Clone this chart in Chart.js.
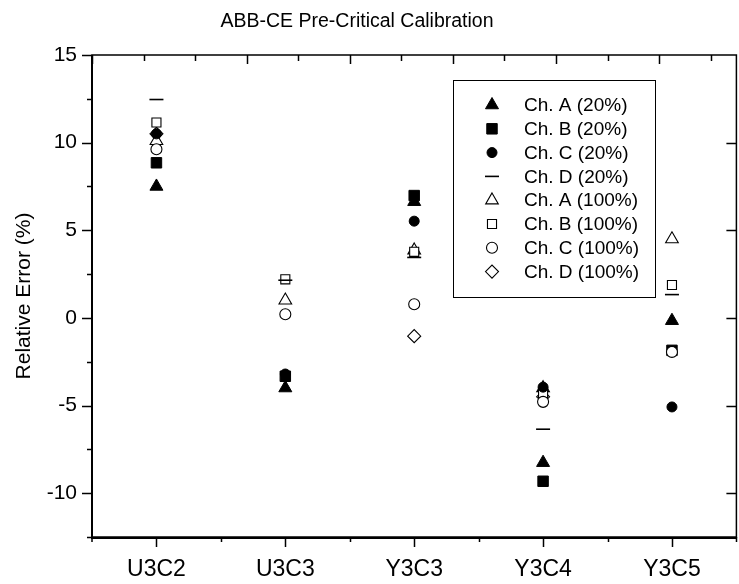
<!DOCTYPE html>
<html><head><meta charset="utf-8">
<script src="https://cdn.jsdelivr.net/npm/chart.js@4.4.1/dist/chart.umd.min.js"></script>
<style>html,body{margin:0;padding:0;background:#fff;overflow:hidden;width:739px;height:584px}canvas{display:block}</style>
</head><body>
<canvas id="c" width="745" height="584"></canvas>
<script>
const categories = ['U3C2', 'U3C3', 'Y3C3', 'Y3C4', 'Y3C5'];
const chA20  = [7.5, -4.0, 6.63, -8.26, -0.16];
const chB20  = [8.85, -3.33, 6.98, -9.32, -1.85];
const chC20  = [10.5, -3.2, 5.52, -3.95, -5.08];
const chD20  = [12.46, 2.15, 3.45, -6.35, 1.33];
const chA100 = [10.1, 1.0, 3.86, -4.0, 4.5];
const chB100 = [11.15, 2.2, 3.77, -4.3, 1.88];
const chC100 = [9.62, 0.21, 0.78, -4.79, -1.94];
const chD100 = [10.5, null, -1.04, -4.5, null];
const seriesNames = ['Ch. A (20%)', 'Ch. B (20%)', 'Ch. C (20%)', 'Ch. D (20%)',
                     'Ch. A (100%)', 'Ch. B (100%)', 'Ch. C (100%)', 'Ch. D (100%)'];
const yMin = -12.5, yMax = 15, yMajor = 5, yMinor = 2.5;
const titleText = 'ABB-CE Pre-Critical Calibration';
const yTitle = 'Relative Error (%)';

const FONT = "'Liberation Sans', Arial, Helvetica, sans-serif";

function ds(label, data, style, filled, radius, order, bw) {
  return {
    label, data, order,
    showLine: false,
    pointStyle: style,
    pointRadius: radius,
    pointHoverRadius: radius,
    pointBackgroundColor: filled ? '#000' : '#fff',
    pointBorderColor: '#000',
    pointBorderWidth: bw,
    borderColor: '#000',
    backgroundColor: filled ? '#000' : '#fff',
    clip: false
  };
}

const datasets = [
  ds(seriesNames[0], chA20, 'triangle', true, 7.5, 3, 1),
  ds(seriesNames[1], chB20, 'rect', true, 7.4, 5, 1),
  ds(seriesNames[2], chC20, 'circle', true, 5, 2, 1),
  ds(seriesNames[3], chD20, 'line', true, 7, 1, 1.6),
  ds(seriesNames[4], chA100, 'triangle', false, 7.3, 7, 1.1),
  ds(seriesNames[5], chB100, 'rect', false, 6.4, 6, 1.1),
  ds(seriesNames[6], chC100, 'circle', false, 5.5, 4, 1.1),
  ds(seriesNames[7], chD100, 'rectRot', false, 6.5, 8, 1.1)
];

function drawMarker(ctx, d, x, y) {
  const opts = {pointStyle: d.pointStyle, radius: d.pointRadius, rotation: 0, borderWidth: d.pointBorderWidth};
  ctx.save();
  ctx.fillStyle = d.pointBackgroundColor;
  ctx.strokeStyle = d.pointBorderColor;
  ctx.lineWidth = d.pointBorderWidth;
  Chart.helpers.drawPoint(ctx, opts, x, y);
  ctx.restore();
}

const framePlugin = {
  id: 'frame',
  afterDraw(chart) {
    const {ctx, chartArea: a, scales: {x, y}} = chart;
    ctx.save();
    ctx.strokeStyle = '#000';
    ctx.lineCap = 'butt';
    ctx.lineWidth = 1.5;
    ctx.strokeRect(a.left, a.top, a.right - a.left, a.bottom - a.top);
    ctx.lineWidth = 2;
    ctx.beginPath();
    ctx.moveTo(a.left, a.top); ctx.lineTo(a.left, a.bottom + 1); ctx.lineTo(a.right, a.bottom + 1);
    ctx.stroke();
    ctx.lineWidth = 1.5;
    ctx.beginPath();
    for (let v = yMin; v <= yMax + 1e-9; v += yMinor) {
      const py = Math.round(y.getPixelForValue(v)) + 0.5;
      const len = (Math.abs(v % yMajor) < 1e-9) ? 10 : 5;
      ctx.moveTo(a.left - len, py); ctx.lineTo(a.left, py);
    }
    for (let v = yMin; v <= yMax + 1e-9; v += yMinor) {
      if (Math.abs(v % yMajor) > 1e-9 || v === yMax) continue;
      const py = Math.round(y.getPixelForValue(v)) + 0.5;
      ctx.moveTo(a.right, py); ctx.lineTo(a.right - 10, py);
    }
    const step = x.getPixelForValue(1) - x.getPixelForValue(0);
    for (let i = 0; i < categories.length; i++) {
      const px = Math.round(x.getPixelForValue(i)) + 0.5;
      ctx.moveTo(px, a.bottom); ctx.lineTo(px, a.bottom + 10);
      const mx = Math.round(x.getPixelForValue(i) + step / 2) + 0.5;
      ctx.moveTo(mx, a.bottom); ctx.lineTo(mx, a.bottom + 5);
    }
    ctx.moveTo(a.left, a.bottom); ctx.lineTo(a.left, a.bottom + 5);
    for (let k = 0; a.left + k * 0.4 * step <= a.right + 0.5; k++) {
      const px = Math.round(a.left + k * 0.4 * step) + 0.5;
      const len = (k === 0 || (k >= 3 && k % 2 === 1)) ? 9 : 6;
      ctx.moveTo(px, a.top); ctx.lineTo(px, a.top + len);
    }
    ctx.stroke();

    ctx.fillStyle = '#000';
    ctx.font = '19.5px ' + FONT;
    ctx.textAlign = 'center';
    ctx.textBaseline = 'middle';
    ctx.fillText(titleText, 357, 22);

    const lb = {l: 453.5, t: 80.5, r: 655.5, b: 297.5};
    ctx.lineWidth = 1;
    ctx.fillStyle = '#fff';
    ctx.fillRect(lb.l, lb.t, lb.r - lb.l, lb.b - lb.t);
    ctx.strokeRect(lb.l, lb.t, lb.r - lb.l, lb.b - lb.t);
    ctx.font = '19px ' + FONT;
    ctx.textAlign = 'left';
    const rowH = 23.8;
    datasets.forEach((d, i) => {
      const ry = 105 + i * rowH;
      drawMarker(ctx, d, 492, ry);
      ctx.fillStyle = '#000';
      ctx.fillText(d.label, 524, ry + 1);
    });
    ctx.restore();
  }
};

new Chart(document.getElementById('c'), {
  type: 'line',
  data: {labels: categories, datasets},
  options: {
    responsive: false,
    animation: false,
    events: [],
    layout: {padding: {top: 55, right: 1, left: 0, bottom: 0}},
    plugins: {legend: {display: false}, tooltip: {enabled: false}, title: {display: false}},
    scales: {
      x: {
        type: 'category',
        offset: true,
        grid: {display: false, drawTicks: false},
        border: {display: false},
        ticks: {color: '#000', font: {family: FONT, size: 23}, padding: 19, maxRotation: 0, autoSkip: false},
        afterFit: s => { s.height = 47; }
      },
      y: {
        type: 'linear',
        min: yMin, max: yMax,
        grid: {display: false, drawTicks: false},
        border: {display: false},
        ticks: {
          stepSize: yMinor, autoSkip: false, color: '#000',
          font: {family: FONT, size: 21}, padding: 15,
          callback: v => (Math.abs(v % yMajor) < 1e-9 ? String(v) : '')
        },
        title: {display: true, text: yTitle, color: '#000', font: {family: FONT, size: 21}, padding: {top: 12, bottom: 0}},
        afterFit: s => { s.width = 92; }
      }
    }
  },
  plugins: [framePlugin]
});
</script>
</body></html>
